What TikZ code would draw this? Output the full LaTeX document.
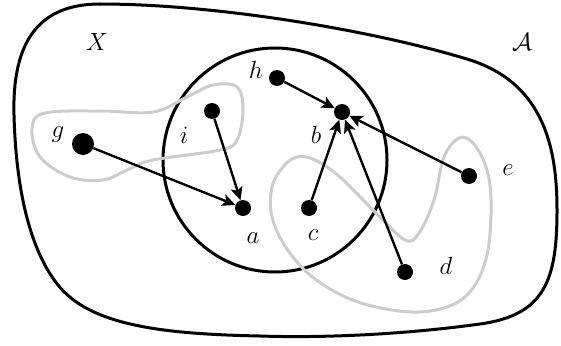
\documentclass[tikz,border=0pt]{standalone}
\usetikzlibrary{arrows.meta}
\begin{document}
\begin{tikzpicture}[x=1pt,y=-1pt,
  dot/.style={circle,fill=black,inner sep=0pt,minimum size=16pt},
  bigdot/.style={circle,fill=black,inner sep=0pt,minimum size=22pt},
  arr/.style={line width=2.4pt,-{Stealth[length=13pt,width=12pt,inset=3pt]}},
  blob/.style={line width=3pt},
  grayblob/.style={line width=3pt,draw=black!20},
  lab/.style={font=\fontsize{25}{30}\selectfont}]
\useasboundingbox (0,0) rectangle (561,345);
% outer region
\draw[blob] (14,115) .. controls (12,40) and (40,4) .. (100,4)
  .. controls (220,4) and (380,32) .. (470,60)
  .. controls (545,84) and (557,150) .. (557,210)
  .. controls (557,280) and (545,315) .. (480,324)
  .. controls (400,335) and (320,338) .. (260,336)
  .. controls (160,334) and (90,325) .. (58,285)
  .. controls (30,250) and (16,190) .. (14,115) -- cycle;
% inner circle
\draw[blob] (275,160) circle (112);
% gray loops
\draw[grayblob] plot[smooth cycle, tension=0.6] coordinates {(32,128) (45,113) (100,111) (153,112) (187,97) (213,85) (237,87) (243,110) (237,140) (220,150) (153,160) (127,170) (103,180) (70,177) (40,157)};
\draw[grayblob] plot[smooth cycle, tension=0.6] coordinates {(272,187) (283,167) (297,157) (315,160) (340,177) (376,213) (405,240) (419,233) (434,200) (444,157) (459,138) (473,143) (486,167) (491,200) (488,250) (475,285) (452,305) (412,312) (358,302) (315,279) (287,249) (272,217)};
% points
\node[bigdot] (g) at (83,144) {};
\node[dot] (i) at (212,111) {};
\node[dot] (a) at (243,208) {};
\node[dot] (h) at (277,78) {};
\node[dot] (b) at (342,112) {};
\node[dot] (c) at (309,208) {};
\node[dot] (e) at (469,176) {};
\node[dot] (d) at (405,272) {};
% arrows
\draw[arr] (g) -- (a);
\draw[arr] (i) -- (a);
\draw[arr] (h) -- (b);
\draw[arr] (c) -- (b);
\draw[arr] (e) -- (b);
\draw[arr] (d) -- (b);
% labels
\node[lab] (lX) at (97,42) {$X$};
\node[lab] (lA) at (522,42) {$\mathcal{A}$};
\node[lab] (lg) at (58,135) {$g$};
\node[lab] (li) at (184,135) {$i$};
\node[lab] (lh) at (256,70) {$h$};
\node[lab] (lb) at (316,135) {$b$};
\node[lab] (la) at (253,238) {$a$};
\node[lab] (lc) at (313,235) {$c$};
\node[lab] (le) at (508,170) {$e$};
\node[lab] (ld) at (446,266) {$d$};
\end{tikzpicture}
\end{document}
